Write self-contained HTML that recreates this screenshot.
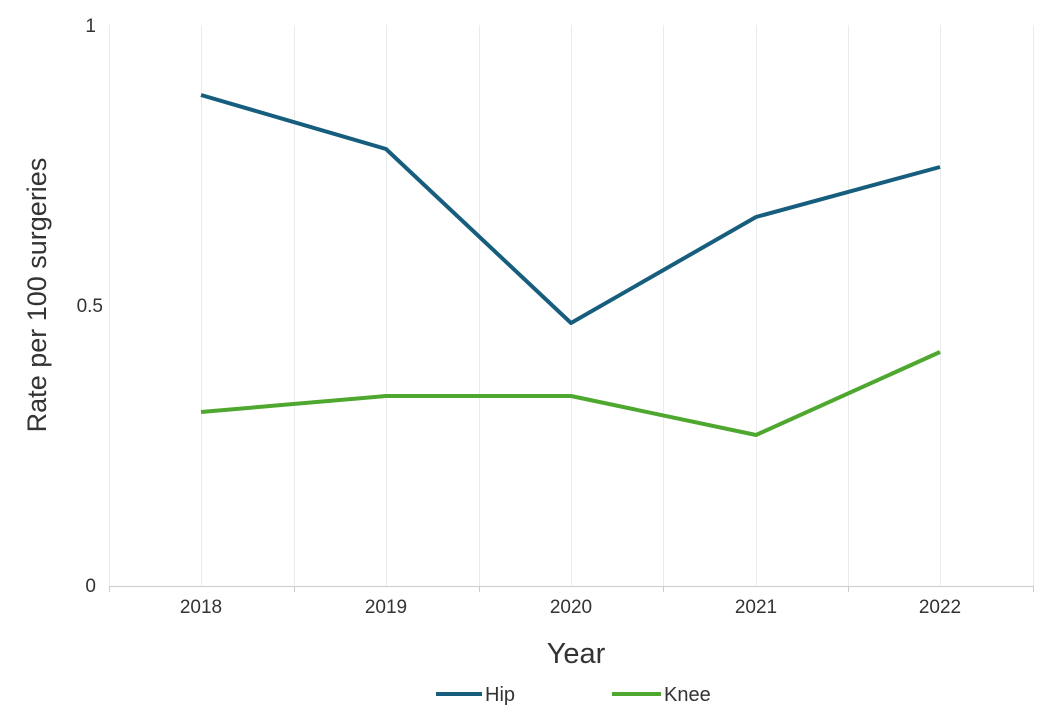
<!DOCTYPE html>
<html><head><meta charset="utf-8"><style>
html,body{margin:0;padding:0;background:#fff;}
svg{display:block;font-family:"Liberation Sans",sans-serif;}
</style></head><body>
<svg width="1042" height="724" viewBox="0 0 1042 724" xmlns="http://www.w3.org/2000/svg">
<g stroke="#ebebeb" stroke-width="1">
<line x1="109.5" y1="25" x2="109.5" y2="586"/>
<line x1="201.5" y1="25" x2="201.5" y2="586"/>
<line x1="294.5" y1="25" x2="294.5" y2="586"/>
<line x1="386.5" y1="25" x2="386.5" y2="586"/>
<line x1="479.5" y1="25" x2="479.5" y2="586"/>
<line x1="571.5" y1="25" x2="571.5" y2="586"/>
<line x1="663.5" y1="25" x2="663.5" y2="586"/>
<line x1="756.5" y1="25" x2="756.5" y2="586"/>
<line x1="848.5" y1="25" x2="848.5" y2="586"/>
<line x1="940.5" y1="25" x2="940.5" y2="586"/>
<line x1="1033.5" y1="25" x2="1033.5" y2="586"/>
</g>
<line x1="109" y1="586.5" x2="1034" y2="586.5" stroke="#ccc" stroke-width="1"/>
<g stroke="#ccc"><line x1="109.5" y1="586" x2="109.5" y2="592"/><line x1="294.5" y1="586" x2="294.5" y2="592"/><line x1="479.5" y1="586" x2="479.5" y2="592"/><line x1="663.5" y1="586" x2="663.5" y2="592"/><line x1="848.5" y1="586" x2="848.5" y2="592"/><line x1="1033.5" y1="586" x2="1033.5" y2="592"/></g>
<g font-size="19" fill="#333" text-anchor="end">
<text x="96" y="32">1</text><text x="103" y="312">0.5</text><text x="96" y="592">0</text>
</g>
<g font-size="19" fill="#333" text-anchor="middle">
<text x="201" y="613">2018</text><text x="386" y="613">2019</text><text x="571" y="613">2020</text><text x="756" y="613">2021</text><text x="940" y="613">2022</text>
</g>
<text x="576" y="663" font-size="29" fill="#333" text-anchor="middle">Year</text>
<text transform="translate(46,295) rotate(-90)" font-size="27" fill="#333" text-anchor="middle">Rate per 100 surgeries</text>
<polyline points="201,95 386,149 571,323 756,217 940,167" fill="none" stroke="#175e7e" stroke-width="4" stroke-linejoin="round"/>
<polyline points="201,412 386,396 571,396 756,435 940,352" fill="none" stroke="#4ea72e" stroke-width="4" stroke-linejoin="round"/>
<line x1="436" y1="694" x2="482" y2="694" stroke="#175e7e" stroke-width="4"/>
<text x="485" y="701" font-size="20" fill="#333">Hip</text>
<line x1="612" y1="694" x2="661" y2="694" stroke="#4ea72e" stroke-width="4"/>
<text x="664" y="701" font-size="20" fill="#333">Knee</text>
</svg>
</body></html>
